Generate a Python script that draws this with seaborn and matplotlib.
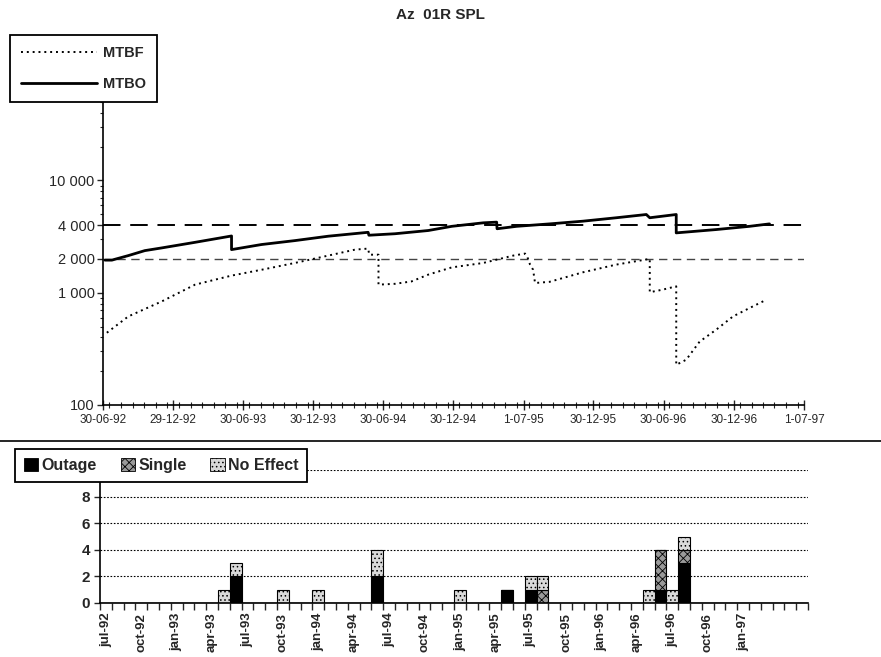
import numpy as np
import pandas as pd
import matplotlib
matplotlib.use("Agg")
import matplotlib.pyplot as plt
import matplotlib.dates as mdates
import matplotlib.ticker as mticker
from matplotlib.lines import Line2D
from matplotlib.patches import Patch
import seaborn as sns

# ─── Data ─────────────────────────────────────────────────────────────────────
MTBO_DATES = [
    "1992-07-05", "1992-07-23", "1992-09-04", "1992-10-17", "1992-11-30",
    "1993-02-25", "1993-05-31", "1993-05-31", "1993-08-17", "1993-11-12",
    "1994-02-07", "1994-05-22", "1994-05-24", "1994-07-31", "1994-10-26",
    "1994-12-26", "1995-03-18", "1995-04-22", "1995-04-23", "1995-06-13",
    "1995-09-07", "1995-12-03", "1996-02-28", "1996-05-16", "1996-05-25",
    "1996-08-02", "1996-08-02", "1996-11-14", "1997-02-09", "1997-04-02",
]
MTBO_HOURS = [
    1950, 1950, 2140, 2370, 2505,
    2810, 3200, 2420, 2685, 2910,
    3185, 3450, 3250, 3350, 3580,
    3900, 4190, 4250, 3710, 3900,
    4100, 4335, 4650, 4970, 4650,
    4970, 3410, 3650, 3900, 4100,
]

MTBF_DATES = [
    "1992-07-10", "1992-09-04", "1992-11-30", "1993-02-25", "1993-05-31",
    "1993-08-17", "1993-11-12", "1994-02-07", "1994-04-18", "1994-05-22",
    "1994-05-25", "1994-06-18", "1994-06-18", "1994-07-31", "1994-09-12",
    "1994-10-26", "1994-12-26", "1995-03-18", "1995-06-04", "1995-07-05",
    "1995-07-11", "1995-07-18", "1995-07-26", "1995-07-31", "1995-09-07",
    "1995-12-03", "1996-02-28", "1996-05-25", "1996-05-25", "1996-06-28",
    "1996-08-02", "1996-08-02", "1996-08-28", "1996-10-02", "1996-11-14",
    "1996-12-28", "1997-02-09", "1997-03-25",
]
MTBF_HOURS = [
    440, 615, 836, 1180, 1420,
    1600, 1840, 2140, 2420, 2470,
    2180, 2180, 1180, 1200, 1260,
    1450, 1680, 1840, 2140, 2230,
    2080, 1780, 1600, 1220, 1250,
    1520, 1780, 2000, 1010, 1065,
    1140, 228, 253, 367, 468,
    615, 730, 866,
]

TARGET_MTBO = 4000
TARGET_MTBF = 2000

X_TICK_DATES = ["1992-06-30", "1992-12-29", "1993-06-30", "1993-12-30",
                "1994-06-30", "1994-12-30", "1995-07-01", "1995-12-30",
                "1996-06-30", "1996-12-30", "1997-07-01"]
X_TICK_LABELS = ["30-06-92", "29-12-92", "30-06-93", "30-12-93", "30-06-94",
                 "30-12-94", "1-07-95", "30-12-95", "30-06-96", "30-12-96",
                 "1-07-97"]
Y_TICKS = [100, 1000, 2000, 4000, 10000]
Y_TICK_LABELS = ["100", "1 000", "2 000", "4 000", "10 000"]

# monthly event counts (only months with events)
EVENT_MONTHS = ["may-93", "jun-93", "oct-93", "jan-94", "jun-94", "jan-95",
                "may-95", "jul-95", "aug-95", "may-96", "jun-96", "jul-96",
                "aug-96"]
OUTAGE    = [0, 2, 0, 0, 2, 0, 1, 1, 0, 0, 1, 0, 3]
SINGLE    = [0, 0, 0, 0, 0, 0, 0, 0, 1, 0, 3, 0, 1]
NO_EFFECT = [1, 1, 1, 1, 2, 1, 0, 1, 1, 1, 0, 1, 1]

MONTHS = list(pd.date_range("1992-07-01", periods=60, freq="MS")
              .strftime("%b-%y").str.lower())
MONTH_LABELS = MONTHS[:55:3]   # jul-92 ... jan-97

# ─── Style ────────────────────────────────────────────────────────────────────
sns.set_theme(style="white")
plt.rcParams["font.family"] = ["Liberation Sans", "DejaVu Sans"]
plt.rcParams["hatch.linewidth"] = 0.6

fig = plt.figure(figsize=(8.81, 6.57), dpi=100)
W, H = 881, 657


def px_axes(x0, y0, x1, y1):
    return fig.add_axes([x0 / W, 1 - y1 / H, (x1 - x0) / W, (y1 - y0) / H])


# ─── Top: MTBF / MTBO ─────────────────────────────────────────────────────────
ax = px_axes(103, 100, 804, 405)

mtbo = pd.DataFrame({"date": pd.to_datetime(MTBO_DATES), "hours": MTBO_HOURS})
mtbf = pd.DataFrame({"date": pd.to_datetime(MTBF_DATES), "hours": MTBF_HOURS})

start, end = pd.Timestamp("1992-06-30"), pd.Timestamp("1997-07-01")
ax.plot([start, end], [TARGET_MTBO] * 2, color="black", lw=1.4,
        dashes=(9, 5), zorder=1)
ax.plot([start, end], [TARGET_MTBF] * 2, color="#444444", lw=1.0,
        dashes=(6, 4), zorder=1)

sns.lineplot(data=mtbf, x="date", y="hours", estimator=None, sort=False,
             color="black", lw=1.4, linestyle=(0, (1, 2)), ax=ax)
sns.lineplot(data=mtbo, x="date", y="hours", estimator=None, sort=False,
             color="black", lw=2.0, ax=ax)

ax.set_yscale("log")
ax.set_ylim(100, 52000)
ax.set_yticks(Y_TICKS)
ax.set_yticklabels(Y_TICK_LABELS)
ax.yaxis.set_minor_locator(mticker.LogLocator(subs=np.arange(2, 10)))
ax.yaxis.set_minor_formatter(mticker.NullFormatter())

tick_dates = pd.to_datetime(X_TICK_DATES)
ax.set_xlim(start, end)
ax.set_xticks(tick_dates)
ax.set_xticklabels(X_TICK_LABELS)
ax.xaxis.set_minor_locator(mdates.MonthLocator(bymonthday=15))
ax.set_xlabel("")
ax.set_ylabel("")

for side in ["top", "right"]:
    ax.spines[side].set_visible(False)
for side in ["left", "bottom"]:
    ax.spines[side].set_color("black")
    ax.spines[side].set_linewidth(1.2)
ax.tick_params(axis="y", which="major", direction="out", length=4, width=1,
               left=True, labelsize=10.5, pad=2)
ax.tick_params(axis="y", which="minor", direction="out", length=2.5, width=0.8,
               left=True)
ax.tick_params(axis="x", which="major", direction="inout", length=7, width=1,
               bottom=True, labelsize=8.5, pad=3)
ax.tick_params(axis="x", which="minor", direction="inout", length=5, width=0.8,
               bottom=True)

top_handles = [
    Line2D([], [], color="black", lw=1.4, linestyle=(0, (1, 2)), label="MTBF"),
    Line2D([], [], color="black", lw=2.0, label="MTBO"),
]
leg = fig.legend(handles=top_handles, loc="upper left",
                 bbox_to_anchor=(10 / W, 1 - 35 / H), borderaxespad=0,
                 handlelength=5.2, handletextpad=0.4,
                 frameon=True, fancybox=False, framealpha=1, borderpad=0.75,
                 labelspacing=1.15, prop={"weight": "bold", "size": 10.5})
leg.get_frame().set_edgecolor("black")
leg.get_frame().set_linewidth(1.3)

fig.text(440 / W, 1 - 15 / H, "Az  01R SPL", ha="center", va="center",
         fontsize=11, fontweight="bold")

# separator line between the two panels
fig.add_artist(Line2D([0, 1], [1 - 441 / H] * 2, color="black", lw=1.2))

# ─── Bottom: monthly events ───────────────────────────────────────────────────
ev = pd.DataFrame({"month": EVENT_MONTHS, "Outage": OUTAGE,
                   "Single": SINGLE, "No Effect": NO_EFFECT})
ev = ev.set_index("month").reindex(MONTHS, fill_value=0).reset_index()

bx = px_axes(100, 470, 808, 603)

styles = {
    "Outage":    dict(color="black", hatch=None),
    "Single":    dict(color="#9a9a9a", hatch="xxxx"),
    "No Effect": dict(color="#d9d9d9", hatch="...."),
}
bottom = np.zeros(len(ev))
for name in ["Outage", "Single", "No Effect"]:
    sns.barplot(data=ev, x="month", y=name, order=MONTHS, width=1,
                color=styles[name]["color"], saturation=1, errorbar=None,
                hatch=styles[name]["hatch"], edgecolor="black", linewidth=0.8,
                bottom=bottom, ax=bx)
    bottom = bottom + ev[name].to_numpy()

bx.set_ylim(0, 10)
bx.set_xlim(-0.5, len(MONTHS) - 0.5)
bx.set_yticks([0, 2, 4, 6, 8, 10])
bx.set_yticklabels(["0", "2", "4", "6", "8", ""])
for yv in [2, 4, 6, 8, 10]:
    bx.axhline(yv, color="black", lw=0.8, linestyle=(0, (1.5, 1.5)), zorder=0)
bx.set_xticks(range(0, len(MONTH_LABELS) * 3, 3))
bx.set_xticklabels(MONTH_LABELS, rotation=90, fontsize=9.5, fontweight="bold")
bx.set_xticks(np.arange(-0.5, len(MONTHS), 1), minor=True)
bx.set_xlabel("")
bx.set_ylabel("")
for side in ["top", "right"]:
    bx.spines[side].set_visible(False)
for side in ["left", "bottom"]:
    bx.spines[side].set_color("black")
    bx.spines[side].set_linewidth(1.2)
bx.tick_params(axis="x", which="major", length=0, pad=7)
bx.tick_params(axis="x", which="minor", direction="out", length=5, width=1,
               bottom=True)
bx.tick_params(axis="y", direction="out", length=4, width=1, left=True,
               labelsize=11, pad=3)
for lab in bx.get_yticklabels():
    lab.set_fontweight("bold")

bottom_handles = [Patch(facecolor=styles[n]["color"], hatch=styles[n]["hatch"],
                        edgecolor="black", lw=0.6, label=n)
                  for n in ["Outage", "Single", "No Effect"]]
leg2 = fig.legend(handles=bottom_handles, loc="upper left",
                  bbox_to_anchor=(15 / W, 1 - 449 / H), borderaxespad=0,
                  ncol=3, handlelength=0.9, handleheight=0.9,
                  handletextpad=0.2, columnspacing=1.5, frameon=True,
                  fancybox=False, framealpha=1, borderpad=0.55,
                  prop={"weight": "bold", "size": 11.5})
leg2.get_frame().set_edgecolor("black")
leg2.get_frame().set_linewidth(1.3)
leg2.set_zorder(10)

fig.savefig("out.png", dpi=100)
